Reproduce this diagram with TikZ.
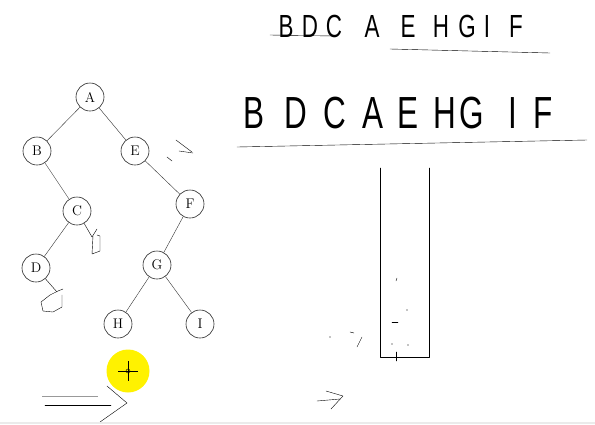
\documentclass[tikz,border=0pt]{standalone}
\usepackage{fontspec}
\newfontfamily\handfont{Liberation Sans}
\usepackage{tikz}
\usetikzlibrary{positioning}
\newcommand{\narrowhand}[1]{\scalebox{0.7}[1]{#1}}
\tikzstyle{vertex} = [circle, draw, semithick, black!85, text=black, minimum width=26pt, minimum height=28pt, inner sep=0pt, font=\fontsize{14}{14}\selectfont]
\tikzstyle{branch} = [thin, black!80]
\tikzstyle{scribble} = [thin, line cap=round, line join=round]
\tikzstyle{smallhand} = [inner sep=0pt, font=\handfont\fontsize{32}{32}\selectfont]
\tikzstyle{bighand} = [inner sep=0pt, font=\handfont\fontsize{45}{45}\selectfont]

\begin{document}
\begin{tikzpicture}[x=1pt, y=-1pt]
    \useasboundingbox (0,0) rectangle (595,424);
    % Tree
    \node [vertex] (A) at (90,97) {A};
    \node [vertex] (B) at (37,151) {B};
    \node [vertex] (E) at (135,151) {E};
    \node [vertex] (C) at (77,211) {C};
    \node [vertex] (F) at (190,204) {F};
    \node [vertex] (D) at (36,268) {D};
    \node [vertex] (G) at (157,265) {G};
    \node [vertex] (H) at (118,324) {H};
    \node [vertex] (I) at (200,324) {I};

    \foreach \p/\c in {A/B, A/E, B/C, C/D, E/F, F/G, G/H, G/I}
        \draw [branch] (\p) -- (\c);

    % empty children, scribbled
    \draw [scribble] (C) -- (92,237) -- (97,229);
    \draw [scribble] (93,236) -- (92,254) -- (100,251) -- (100,236) -- (97,235);
    \draw [scribble] (D) -- (57,292);
    \draw [scribble] (58,291) -- (63,289);
    \draw [scribble] (62,295) -- (62,307) -- (53,312) -- (43,311) -- (41,302) -- (50,295) -- (58,291);
    \draw [scribble] (176,140) -- (192,152);
    \draw [scribble] (179,151) -- (193,153);
    \draw [scribble] (167,157) -- (172,161);

    % traversal, first try
    \foreach \l/\x in {B/286, D/310, C/334, A/372, E/408, H/441, G/467, I/487, F/516}
        \node [smallhand] (top\l) at (\x,26) {\narrowhand{\l}};
    \draw [scribble] (270,35) -- (333,36);
    \draw [scribble] (390,49) -- (550,53);

    % traversal, second try
    \foreach \l/\x in {B/254, D/296, C/335, A/373, E/408, H/445, G/472, I/513, F/543}
        \node [bighand] (low\l) at (\x,113) {\narrowhand{\l}};
    \draw [scribble] (237,147) -- (587,140);

    % stack
    \draw [scribble] (380,168) -- (380,357) -- (429,357) -- (429,168);
    \draw [scribble] (396,352) -- (396,361);
    \draw [scribble] (397,278) -- (396,281);
    \draw [scribble] (392,322) -- (398,322);
    \fill (407,310) circle (0.6);
    \fill (392,344) circle (0.6);
    \fill (408,345) circle (0.6);
    \fill (330,337) circle (0.7);
    \draw [scribble] (350,332) -- (354,333);
    \draw [scribble] (362,337) -- (357,347);

    % arrows
    \draw [scribble] (317,401) -- (340,399);
    \draw [scribble] (326,391) -- (343,396) -- (331,409);
    \draw [black!40, thick] (42,396) -- (98,396);
    \draw [scribble] (45,405) -- (111,405);
    \draw [scribble] (107,386) -- (127,403) -- (100,422);

    % cursor
    \node [circle, fill=yellow, minimum size=43pt, inner sep=0pt] (spot) at (128,371) {};
    \draw [thin] (118,371) -- (138,371);
    \draw [thin] (128,361) -- (128,381);
    \draw [thin] (spot.center) circle (2);

    \fill [black!8] (0,421.5) rectangle (595,424);
\end{tikzpicture}
\end{document}
